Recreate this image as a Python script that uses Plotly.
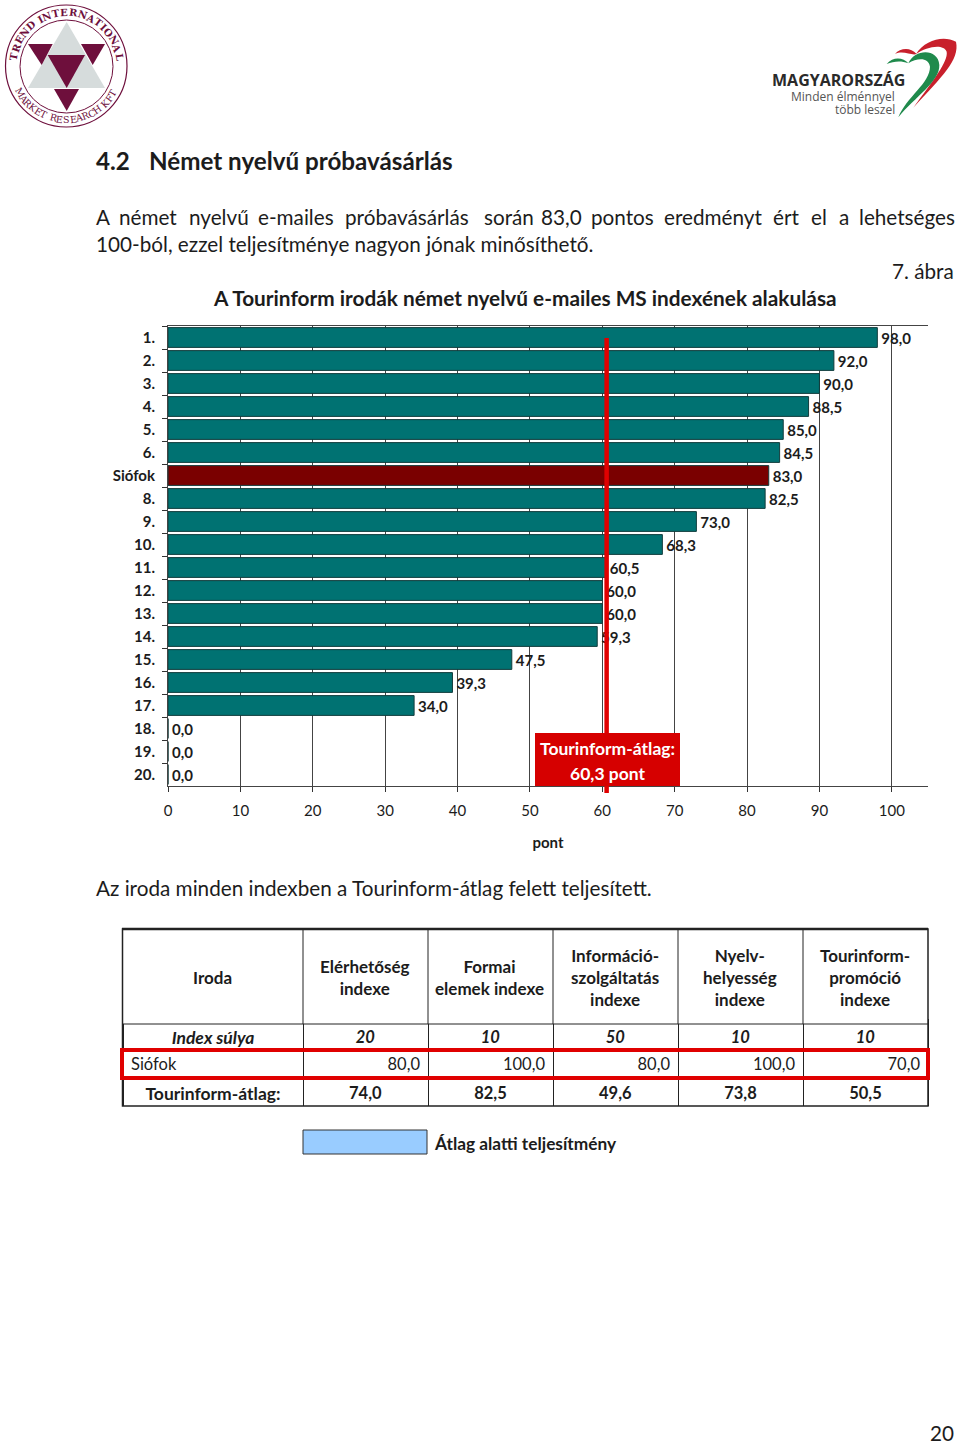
"""Tourinform report page: German e-mail mystery shopping index."""

import math

import plotly.graph_objects as go

PAGE_W = 960
PAGE_H = 1443
FONT = "Lato"
INK = "#1c1c1c"

CATEGORIES = ["1.", "2.", "3.", "4.", "5.", "6.", "Siófok", "8.", "9.", "10.",
              "11.", "12.", "13.", "14.", "15.", "16.", "17.", "18.", "19.", "20."]
SCORES = [98.0, 92.0, 90.0, 88.5, 85.0, 84.5, 83.0, 82.5, 73.0, 68.3,
          60.5, 60.0, 60.0, 59.3, 47.5, 39.3, 34.0, 0.0, 0.0, 0.0]
HIGHLIGHT = "Siófok"
AVG_LINE_X = 60.6
X_TICKS = [0, 10, 20, 30, 40, 50, 60, 70, 80, 90, 100]

TABLE_HEADERS = ["Iroda", "Elérhetőség<br>indexe", "Formai<br>elemek indexe",
                 "Információ-<br>szolgáltatás<br>indexe", "Nyelv-<br>helyesség<br>indexe",
                 "Tourinform-<br>promóció<br>indexe"]
WEIGHT_ROW = ["Index súlya", "20", "10", "50", "10", "10"]
SIOFOK_ROW = ["Siófok", "80,0", "100,0", "80,0", "100,0", "70,0"]
AVERAGE_ROW = ["Tourinform-átlag:", "74,0", "82,5", "49,6", "73,8", "50,5"]

PARAGRAPH_WORDS = ["A", "német", "nyelvű", "e-mailes", "próbavásárlás", "során", "83,0",
                   "pontos", "eredményt", "ért", "el", "a", "lehetséges"]
PARAGRAPH_STARTS = [96, 119, 189, 258, 345, 484, 541, 591, 664, 773, 811, 839, 859]


def px(x):
    return x / PAGE_W


def py(y):
    return 1 - y / PAGE_H


def note(text, x, y, size=20.7, anchor="left", color=INK, angle=0, family=FONT):
    fig.add_annotation(text=text, x=px(x), y=py(y), xref="paper", yref="paper",
                       xanchor=anchor, yanchor="middle", showarrow=False, textangle=angle,
                       borderpad=0, borderwidth=0,
                       font={"family": family, "size": size, "color": color})


def box(x0, y0, x1, y1, **kw):
    fig.add_shape(type="rect", xref="paper", yref="paper",
                  x0=px(x0), x1=px(x1), y0=py(y0), y1=py(y1), **kw)


def rule(x0, y0, x1, y1, width=1.0, color="#222222"):
    fig.add_shape(type="line", xref="paper", yref="paper",
                  x0=px(x0), x1=px(x1), y0=py(y0), y1=py(y1),
                  line={"color": color, "width": width})


def poly(points, color):
    path = "M" + " L".join(f"{px(x):.5f},{py(y):.5f}" for x, y in points) + " Z"
    fig.add_shape(type="path", xref="paper", yref="paper", path=path,
                  fillcolor=color, line={"width": 0})


def ribbon(start, curves, color):
    # logo curves noted in a 3x crop whose corner is at (880, 30)
    def pt(p):
        return f"{px(880 + p[0] / 3):.5f},{py(30 + p[1] / 3):.5f}"
    d = "M" + pt(start)
    for curve in curves:
        d += " C" + " ".join(pt(p) for p in curve)
    fig.add_shape(type="path", xref="paper", yref="paper", path=d + " Z",
                  fillcolor=color, line={"width": 0})


def arc_angles(text, first, last):
    # narrow glyphs take less of the arc
    weights = [0.55 if c in "I " else 1.0 for c in text]
    total = sum(weights) - (weights[0] + weights[-1]) / 2
    out, run = [], 0.0
    for i, w in enumerate(weights):
        if i:
            run += (weights[i - 1] + w) / 2
        out.append(first + (last - first) * run / total)
    return out


fig = go.Figure()

colors = ["#7a0000" if c == HIGHLIGHT else "#007272" for c in CATEGORIES]
fig.add_trace(go.Bar(
    x=SCORES, y=CATEGORIES, orientation="h",
    marker={"color": colors, "line": {"color": "#123c3c", "width": 1}},
    text=[f"{v:.1f}".replace(".", ",") for v in SCORES],
    texttemplate="\u200a<b>%{text}</b>",
    textposition="outside", cliponaxis=False,
    textfont={"family": FONT, "size": 15, "color": INK},
    showlegend=False,
))

# one header-only table per row: row heights and alignment differ row to row.
# Table text sits at a fixed distance from the row top, so rows start a bit high
# and whatever is drawn afterwards covers the excess.
col_widths = [180, 125, 125, 125, 125, 125]
table_x = [px(123), px(928)]
row_specs = [
    ([f"<b>{v}</b>" for v in AVERAGE_ROW], 1075, 1106, ["center"] * 6, [17.5] + [16.5] * 5),
    ([f"<b><i>{v}</i></b>" for v in WEIGHT_ROW], 1019, 1050, ["center"] * 6, [17.5] + [16.5] * 5),
    (SIOFOK_ROW, 1050, 1078, ["left"] + ["right"] * 5, [16.5] * 6),
]
for texts, top, bottom, aligns, sizes in row_specs:
    fig.add_trace(go.Table(
        domain={"x": table_x, "y": [py(bottom), py(top)]},
        columnwidth=col_widths,
        header={"values": texts, "height": bottom - top, "align": aligns,
                "font": {"family": FONT, "size": sizes, "color": INK},
                "line": {"color": "#222222", "width": 1}, "fill": {"color": "white"}},
    ))

fig.update_layout(
    template="none",
    width=PAGE_W, height=PAGE_H,
    margin={"l": 0, "r": 0, "t": 0, "b": 0, "pad": 0},
    paper_bgcolor="white", plot_bgcolor="white",
    bargap=0.14,
    xaxis={
        "domain": [px(168), px(928)], "range": [0, 105], "automargin": False,
        "tickvals": X_TICKS, "ticks": "outside", "ticklen": 5, "tickcolor": "#333333",
        "ticklabelstandoff": 6, "tickprefix": "<b>", "ticksuffix": "</b>",
        "showgrid": True, "gridcolor": "#444444", "gridwidth": 1, "zeroline": False,
        "showline": True, "linecolor": "#444444", "mirror": True,
        "tickfont": {"family": FONT, "size": 15, "color": INK},
        "title": {"text": "<b>pont</b>", "standoff": 19,
                  "font": {"family": FONT, "size": 15, "color": INK}},
    },
    yaxis={
        "domain": [py(786), py(326)], "autorange": "reversed", "automargin": False,
        "type": "category", "dtick": 1,
        "tickson": "boundaries", "ticks": "outside", "ticklen": 5, "tickcolor": "#333333",
        "ticklabelstandoff": 9, "tickprefix": "<b>", "ticksuffix": "</b>",
        "showgrid": False, "showline": True, "linecolor": "#444444", "zeroline": False,
        "tickfont": {"family": FONT, "size": 15, "color": INK},
    },
    font={"family": FONT, "color": INK},
)

# average marker, placed on the value axis
fig.add_shape(type="line", xref="x", yref="paper", x0=AVG_LINE_X, x1=AVG_LINE_X,
              y0=py(793), y1=py(338), line={"color": "#e00000", "width": 4.5}, layer="above")
box(535, 733, 680, 786, fillcolor="#d60000", line={"width": 0})
note("<b>Tourinform-átlag:</b>", 607.5, 748, 17.5, "center", "white")
note("<b>60,3 pont</b>", 607.5, 773, 17.5, "center", "white")

# page text
note("<b>4.2</b>", 96, 161, 24.2)
note("<b>Német nyelvű próbavásárlás</b>", 149, 161, 24.2)
for word, start in zip(PARAGRAPH_WORDS, PARAGRAPH_STARTS):
    note(word, start, 217)
note("100-ból, ezzel teljesítménye nagyon jónak minősíthető.", 96, 244)
note("7. ábra", 954, 271, anchor="right")
note("<b>A Tourinform irodák német nyelvű e-mailes MS indexének alakulása</b>", 524.5, 297.5, 20.8, "center")
note("Az iroda minden indexben a Tourinform-átlag felett teljesített.", 96, 887.5)
note("20", 954, 1433, anchor="right")

# table header block and frame
box(122, 920, 928, 1024, fillcolor="white", line={"width": 0})
rule(122, 1024, 928, 1024)
col_edge = 123
for width in col_widths[:-1]:
    col_edge += width
    rule(col_edge, 929, col_edge, 1024)
col_centers = [212, 365, 490, 615, 740, 865]
for label, cx in zip(TABLE_HEADERS, col_centers):
    note(f"<b>{label}</b>", cx, 977, 17, "center")
box(122.5, 929, 928, 1106, line={"color": "#222222", "width": 1.5})
rule(122, 929, 928, 929, 2.5)
box(122, 1050, 928, 1078, line={"color": "#e00000", "width": 4})
box(303, 1130, 427, 1154, fillcolor="#99ccff", line={"color": "#333333", "width": 1})
note("<b>Átlag alatti teljesítmény</b>", 434, 1143, 17.3)

# Trend International logo
MAROON = "#6e0f3c"
fig.add_shape(type="circle", xref="paper", yref="paper", x0=px(5.5), x1=px(127), y0=py(127), y1=py(5),
              line={"color": MAROON, "width": 1.2})
fig.add_shape(type="circle", xref="paper", yref="paper", x0=px(20), x1=px(113), y0=py(113), y1=py(20),
              line={"color": MAROON, "width": 1})
poly([(66.7, 22), (105, 88), (28, 88)], "#d6dcdc")
poly([(47.7, 55), (85, 55), (66.7, 88)], MAROON)
poly([(28, 44), (52.7, 44), (41.7, 65)], MAROON)
poly([(81, 44), (105, 44), (92.7, 65)], MAROON)
poly([(54, 89), (79, 89), (66.7, 111)], MAROON)
upper = "TREND INTERNATIONAL"
for ch, a in zip(upper, arc_angles(upper, -80, 80)):
    note(f"<b>{ch}</b>", 66.5 + 53.5 * math.sin(math.radians(a)), 66 - 53.5 * math.cos(math.radians(a)),
         10, "center", MAROON, a, "DejaVu Serif")
lower = "MARKET RESEARCH KFT"
for ch, a in zip(lower, arc_angles(lower, -60, 60)):
    note(ch, 66.5 + 53.5 * math.sin(math.radians(a)), 66 + 53.5 * math.cos(math.radians(a)),
         9.5, "center", MAROON, -a, "DejaVu Serif")

# Magyarország logo
note("<b>MAGYARORSZÁG</b>", 905, 80, 16, "right", "#2a2a2a", family="Open Sans")
note("Minden élménnyel", 895, 96.5, 12, "right", "#555555", family="Open Sans")
note("több leszel", 895, 109.5, 12, "right", "#555555", family="Open Sans")
RED = "#c8202c"
GREEN = "#1f8a4c"
ribbon((45, 72), [[(60, 55), (90, 50), (110, 72)], [(95, 78), (70, 60), (45, 72)]], RED)
ribbon((108, 72), [[(135, 30), (190, 15), (228, 35)], [(240, 90), (185, 140), (100, 233)],
                   [(160, 150), (205, 95), (200, 65)], [(190, 40), (140, 50), (108, 72)]], RED)
ribbon((20, 102), [[(40, 78), (70, 82), (85, 100)], [(60, 90), (40, 95), (20, 102)]], GREEN)
ribbon((85, 100), [[(105, 55), (175, 55), (178, 105)], [(180, 155), (105, 200), (55, 262)],
                   [(80, 200), (150, 160), (150, 110)], [(145, 80), (110, 85), (85, 100)]], GREEN)

fig.write_html("out.html", config={"displayModeBar": False},
               post_script="document.body.style.margin='0';")
